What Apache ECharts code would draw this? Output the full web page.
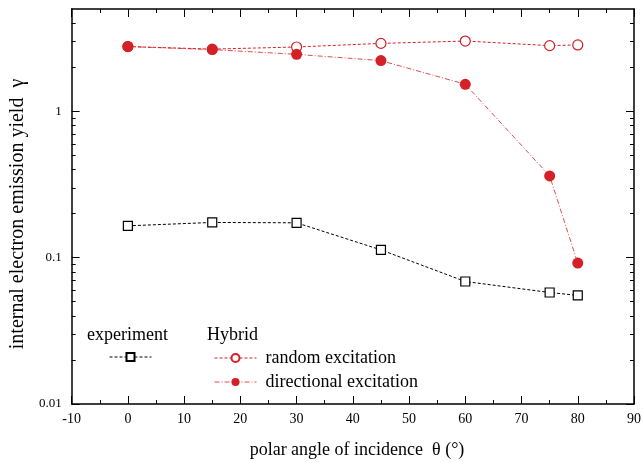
<!DOCTYPE html>
<html>
<head>
<meta charset="utf-8">
<script src="https://cdn.jsdelivr.net/npm/echarts@6/dist/echarts.min.js"></script>
<style>
html, body { margin: 0; padding: 0; background: #fff; }
#chart { width: 644px; height: 462px; }
</style>
</head>
<body>
<div id="chart"></div>
<script>
// polar angle (deg)
var angles = [0, 15, 30, 45, 60, 75, 80];
var experiment = [0.165, 0.174, 0.173, 0.113, 0.0687, 0.0578, 0.0552];
var randomExc = [2.77, 2.66, 2.75, 2.91, 3.02, 2.81, 2.84];
var directionalExc = [2.77, 2.64, 2.45, 2.22, 1.53, 0.362, 0.0918];

var yMajorTicks = [0.01, 0.1, 1];
var yMinorTicks = [0.02, 0.03, 0.04, 0.05, 0.06, 0.07, 0.08, 0.09,
                   0.2, 0.3, 0.4, 0.5, 0.6, 0.7, 0.8, 0.9, 2, 3, 4];

function pairs(ys) {
  return angles.map(function (a, i) { return [a, ys[i]]; });
}

var red = '#d42027';
var font = 'Liberation Serif';

var chart = echarts.init(document.getElementById('chart'));

function xAx(pos, labels) {
  return {
    type: 'value', position: pos, min: -10, max: 90, interval: 10,
    axisLine: { onZero: false, lineStyle: { color: '#000', width: 1.5 } },
    axisTick: { inside: true, length: 8, lineStyle: { color: '#000', width: 1 } },
    minorTick: { show: true, splitNumber: 2, length: 4, lineStyle: { color: '#000' } },
    axisLabel: { show: labels, color: '#000', fontFamily: font, fontSize: 14, margin: 8 },
    splitLine: { show: false }
  };
}

function yAx(pos, ticks, len, labels) {
  return {
    type: 'log', logBase: 10, position: pos, min: 0.01, max: 5,
    axisLine: { show: len > 5, onZero: false, lineStyle: { color: '#000', width: 1.5 } },
    axisTick: { inside: true, length: len, customValues: ticks, lineStyle: { color: '#000', width: 1 } },
    axisLabel: {
      show: labels, customValues: yMajorTicks, color: '#000', fontFamily: font, fontSize: 13, margin: 10,
      formatter: function (v) { return String(v); }
    },
    splitLine: { show: false },
    name: labels ? 'internal electron emission yield  \u03b3' : '',
    nameLocation: 'middle', nameGap: 36,
    nameTextStyle: { color: '#000', fontFamily: font, fontSize: 20, padding: [0, 15, 0, 0] }
  };
}

var option = {
  animation: false,
  grid: { left: 70, right: 9, top: 9, bottom: 58 },
  title: [
    { text: 'polar angle of incidence  \u03b8 (\u00b0)', left: 352, top: 436, textAlign: 'center',
      textStyle: { color: '#000', fontFamily: font, fontSize: 18, fontWeight: 'normal' } },
    { text: 'experiment', left: 82, top: 321,
      textStyle: { color: '#000', fontFamily: font, fontSize: 18, fontWeight: 'normal' } },
    { text: 'Hybrid', left: 202, top: 321,
      textStyle: { color: '#000', fontFamily: font, fontSize: 18, fontWeight: 'normal' } }
  ],
  legend: [
    { data: ['experiment'], left: 104, top: 347, itemWidth: 42, itemHeight: 10,
      lineStyle: { width: 1 },
      formatter: function () { return ''; } },
    { data: ['random excitation', 'directional excitation'], orient: 'vertical',
      left: 209, top: 344, itemWidth: 42, itemHeight: 10, itemGap: 6,
      lineStyle: { width: 1 },
      textStyle: { color: '#000', fontFamily: font, fontSize: 18, padding: [0, 0, 0, 4] } }
  ],
  xAxis: [xAx('bottom', true), xAx('top', false)],
  yAxis: [
    yAx('left', yMajorTicks, 8, true),
    yAx('left', yMinorTicks, 4, false),
    yAx('right', yMajorTicks, 8, false),
    yAx('right', yMinorTicks, 4, false)
  ],
  series: [
    {
      name: 'experiment', type: 'line', data: pairs(experiment),
      symbol: 'rect', symbolSize: 9,
      lineStyle: { color: '#000', width: 1, type: [3, 2] },
      itemStyle: { color: '#fff', borderColor: '#000', borderWidth: 1.2 }
    },
    {
      name: 'random excitation', type: 'line', data: pairs(randomExc),
      symbol: 'circle', symbolSize: 10,
      lineStyle: { color: red, width: 1, type: [3, 2] },
      itemStyle: { color: '#fff', borderColor: red, borderWidth: 1.2 }
    },
    {
      name: 'directional excitation', type: 'line', data: pairs(directionalExc),
      symbol: 'circle', symbolSize: 11,
      lineStyle: { color: red, width: 1, type: [5, 2, 1, 2], opacity: 0.8 },
      itemStyle: { color: red, borderColor: red, borderWidth: 0 }
    }
  ]
};

chart.setOption(option);
</script>
</body>
</html>
